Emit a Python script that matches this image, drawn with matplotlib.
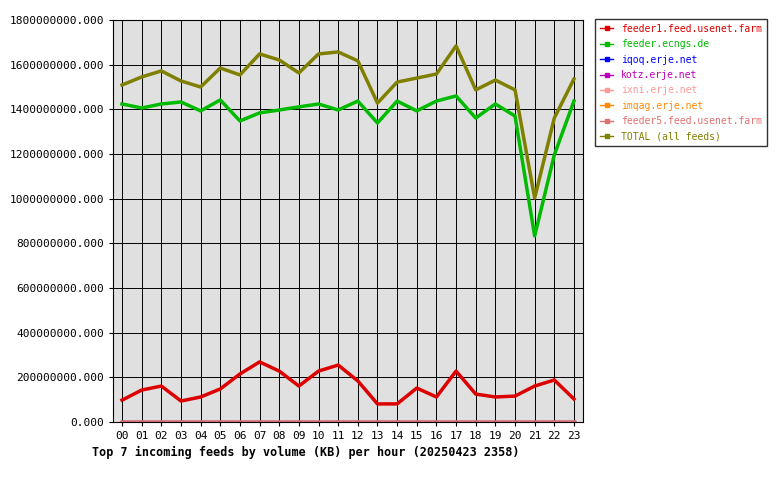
import matplotlib
matplotlib.use("Agg")
import matplotlib.pyplot as plt
from matplotlib.ticker import FuncFormatter

hours = ["%02d" % h for h in range(24)]
feeder1 = [98,143,161,94,112,148,215,269,228,161,228,255,184,81,81,152,112,228,125,112,116,161,188,103]
ecngs = [1424,1406,1424,1433,1393,1442,1348,1384,1397,1411,1424,1397,1437,1339,1437,1393,1437,1460,1361,1424,1370,833,1196,1437]
total = [1509,1545,1572,1527,1500,1585,1554,1648,1621,1563,1648,1657,1617,1428,1522,1540,1558,1684,1487,1531,1487,1003,1361,1536]
zeros = [0.3]*24
names = ["feeder1.feed.usenet.farm","feeder.ecngs.de","iqoq.erje.net","kotz.erje.net",
         "ixni.erje.net","imqag.erje.net","feeder5.feed.usenet.farm","TOTAL (all feeds)"]
colors = ["#dd0000","#00bb00","#0000ff","#bb00bb","#ff9999","#ff8800","#e07070","#808000"]
series = [feeder1, ecngs, zeros, zeros, zeros, zeros, zeros, total]

plt.rcParams['font.family'] = ['DejaVu Sans Mono']
fig = plt.figure(figsize=(7.8,4.8), dpi=100)
ax = fig.add_axes([113/780, 58/480, 470/780, 402/480])
ax.set_facecolor("#e0e0e0")
x = list(range(24))
handles = []
for i,(n,c,s) in enumerate(zip(names,colors,series)):
    ax.plot(x, [v*1e6 for v in s], color=c, lw=2.5, zorder=3 if i in (0,1,7) else 2)
    h, = ax.plot([], [], color=c, lw=1, marker='s', ms=2.5)
    handles.append(h)
ax.set_xlim(-0.46, 23.46)
ax.set_ylim(0, 1.8e9)
ax.set_xticks(x)
ax.set_xticklabels(hours, fontsize=8)
ax.set_yticks([i*2e8 for i in range(10)])
ax.yaxis.set_major_formatter(FuncFormatter(lambda v,p: "%d.000" % round(v)))
ax.tick_params(labelsize=8, length=3)
ax.grid(True, color="black", lw=0.7)
ax.set_axisbelow(True)
fig.text(92/780, 1-452/480, "Top 7 incoming feeds by volume (KB) per hour (20250423 2358)",
         fontsize=8.5, fontweight='bold', va='center')
leg = fig.legend(handles, names, loc='upper left', bbox_to_anchor=(595/780, 1-19/480),
                 fontsize=7, frameon=True, fancybox=False, edgecolor='black',
                 handlelength=1.4, labelspacing=0.55, borderaxespad=0, borderpad=0.5)
for t,c in zip(leg.get_texts(), colors):
    t.set_color(c)
fig.savefig("out.png", dpi=100)
